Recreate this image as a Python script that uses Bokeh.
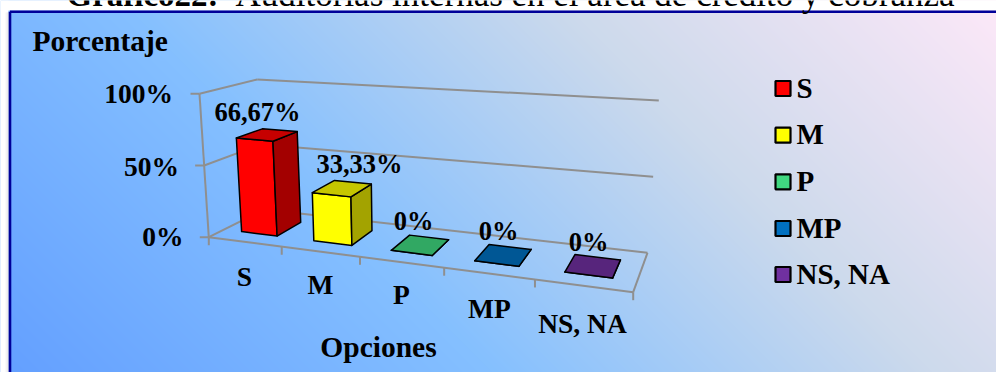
import numpy as np
from bokeh.plotting import figure
from bokeh.models import Range1d
from bokeh.core.properties import value
from bokeh.embed import file_html
from bokeh.resources import INLINE

# Chart content
categories = ["S", "M", "P", "MP", "NS, NA"]
percentages = [66.67, 33.33, 0, 0, 0]
value_labels = ["66,67%", "33,33%", "0%", "0%", "0%"]
y_ticks = [0, 50, 100]
y_tick_labels = ["0%", "50%", "100%"]
colors = ["#FF0000", "#FFFF00", "#40D880", "#0070C0", "#7030A0"]

WIDTH, HEIGHT = 996, 372
SERIF = value("Liberation Serif")
# Alphabetic text sits this fraction of its size below the anchor in the SVG output
BASELINE_SHIFT = 0.32

# Corners of the 3D plot box on screen, keyed by (right, back, top)
BOX = {
    (0, 0, 0): (208.3, 236.7), (1, 0, 0): (632.7, 291.7),
    (0, 1, 0): (263.8, 209.0), (1, 1, 0): (647.0, 252.3),
    (0, 0, 1): (199.0, 93.3),  (1, 0, 1): (643.0, 130.0),
    (0, 1, 1): (256.7, 79.0),  (1, 1, 1): (658.3, 100.0),
}
PERSPECTIVE = 0.83
BAR_FRONT, BAR_BACK = 0.28, 0.75
BAR_FILL = 0.5


def along(u):
    return u * PERSPECTIVE / (1 + (PERSPECTIVE - 1) * u)


def project(u, depth, pct):
    """Map category position, depth and percentage to page coordinates."""
    a, b, c = along(u), depth, pct / 100
    x = y = 0.0
    for (i, j, k), (cx, cy) in BOX.items():
        weight = (a if i else 1 - a) * (b if j else 1 - b) * (c if k else 1 - c)
        x += weight * cx
        y += weight * cy
    return x, y


def shade(color, factor):
    r, g, b = (int(color[n:n + 2], 16) for n in (1, 3, 5))
    return "#%02x%02x%02x" % (int(r * factor), int(g * factor), int(b * factor))


p = figure(width=WIDTH, height=HEIGHT, output_backend="svg", toolbar_location=None,
           x_range=Range1d(0, WIDTH), y_range=Range1d(HEIGHT, 0),
           min_border=0, outline_line_color=None, background_fill_color="white",
           border_fill_color="white")
p.axis.visible = False
p.grid.visible = False

# Diagonal panel gradient
FRAME_X, FRAME_Y = 9.5, 11.3
xx, yy = np.meshgrid(np.arange(WIDTH), np.arange(HEIGHT))
t = xx - yy
stops = [-362, 120, 560, 985]
ramp = [(100, 160, 255), (133, 192, 255), (205, 218, 236), (252, 232, 248)]
rgba = np.full((HEIGHT, WIDTH, 4), 255, dtype=np.uint8)
for n in range(3):
    rgba[..., n] = np.interp(t, stops, [c[n] for c in ramp]).astype(np.uint8)
p.image_rgba(image=[rgba.view(np.uint32).reshape(HEIGHT, WIDTH)],
             x=0, y=0, dw=WIDTH, dh=HEIGHT)

# Panel border with a faint shadow on its outer left edge
p.quad(left=0, right=8, top=0, bottom=HEIGHT, fill_color="white", line_color=None)
p.quad(left=0, right=WIDTH, top=0, bottom=10, fill_color="white", line_color=None)
for x0, tone in zip([5.5, 6.5, 7.5], ["#f4f4f4", "#ececec", "#e0e0e0"]):
    p.line([x0, x0], [12, HEIGHT], line_color=tone, line_width=1)
p.line([FRAME_X, FRAME_X], [FRAME_Y, HEIGHT], line_color="#000099", line_width=2.6)
p.line([FRAME_X, WIDTH], [FRAME_Y, FRAME_Y], line_color="#000099", line_width=2.4)


def label(x, y, text, size, align="center", style="bold"):
    p.text([x], [y - BASELINE_SHIFT * size], text=[text], text_font=SERIF,
           text_font_style=style, text_font_size=f"{size}px", text_color="black",
           text_align=align, text_baseline="alphabetic")


# Title, clipped by the top of the page
label(66, 5.5, "Gráfico22:", 33, "left")
label(235, 5.5, "Auditorías internas en el área de crédito y cobranza", 35, "left", "normal")

# Plot box: walls, floor edges and tick marks
GRID = "#8f8f8f"


def edge(a, b):
    p.line([a[0], b[0]], [a[1], b[1]], line_color=GRID, line_width=2)


for tick in y_ticks:
    front = project(0, 0, tick)
    back_l = project(0, 1, tick)
    back_r = project(1, 1, tick)
    edge(front, back_l)
    edge(back_l, back_r)
    edge((front[0] - 9, front[1]), front)
edge(project(0, 0, 0), project(0, 0, 100))
edge(project(0, 0, 0), project(1, 0, 0))
edge(project(1, 0, 0), project(1, 1, 0))
for i in range(len(categories) + 1):
    x0, y0 = project(i / len(categories), 0, 0)
    edge((x0, y0), (x0, y0 + 8))

# Bars as three visible faces
n_cat = len(categories)
for i, (pct, color) in enumerate(zip(percentages, colors)):
    u0 = (i + 0.5 - BAR_FILL / 2) / n_cat
    u1 = (i + 0.5 + BAR_FILL / 2) / n_cat
    faces = [
        ([(u0, BAR_FRONT, 0), (u1, BAR_FRONT, 0), (u1, BAR_FRONT, pct), (u0, BAR_FRONT, pct)], color),
        ([(u1, BAR_FRONT, 0), (u1, BAR_BACK, 0), (u1, BAR_BACK, pct), (u1, BAR_FRONT, pct)], shade(color, 0.64)),
        ([(u0, BAR_FRONT, pct), (u1, BAR_FRONT, pct), (u1, BAR_BACK, pct), (u0, BAR_BACK, pct)], shade(color, 0.78)),
    ]
    for corners, fill in faces:
        pts = [project(*c) for c in corners]
        p.patch([q[0] for q in pts], [q[1] for q in pts], fill_color=fill,
                line_color="black", line_width=1.5, line_join="round")

# Value labels
label_x = [257, 359, 413, 498, 588]
label_y = [120, 171.7, 228.5, 239, 250]
for x, y, text in zip(label_x, label_y, value_labels):
    label(x, y, text, 26.5)

# Axis labels
tick_right = [183, 178.5, 172.5]
tick_base = [245, 175, 101.5]
for x, y, text in zip(tick_right, tick_base, y_tick_labels):
    label(x, y, text, 27.5, "right")
cat_x = [244, 320, 401, 489, 582]
cat_y = [284.3, 293, 303, 316.7, 331.7]
for x, y, text in zip(cat_x, cat_y, categories):
    label(x, y, text, 27.5)
label(32, 50.2, "Porcentaje", 29.5, "left")
label(378, 356, "Opciones", 29.5)

# Legend
legend_y = [88, 134.7, 181.3, 228, 274]
for y, text, color in zip(legend_y, categories, colors):
    p.quad(left=775, right=790, top=y - 7.5, bottom=y + 7.5, fill_color=color,
           line_color="black", line_width=2.2)
    label(796, y + 8.5, text, 29, "left")

open("out.html", "w").write(file_html(p, INLINE))
